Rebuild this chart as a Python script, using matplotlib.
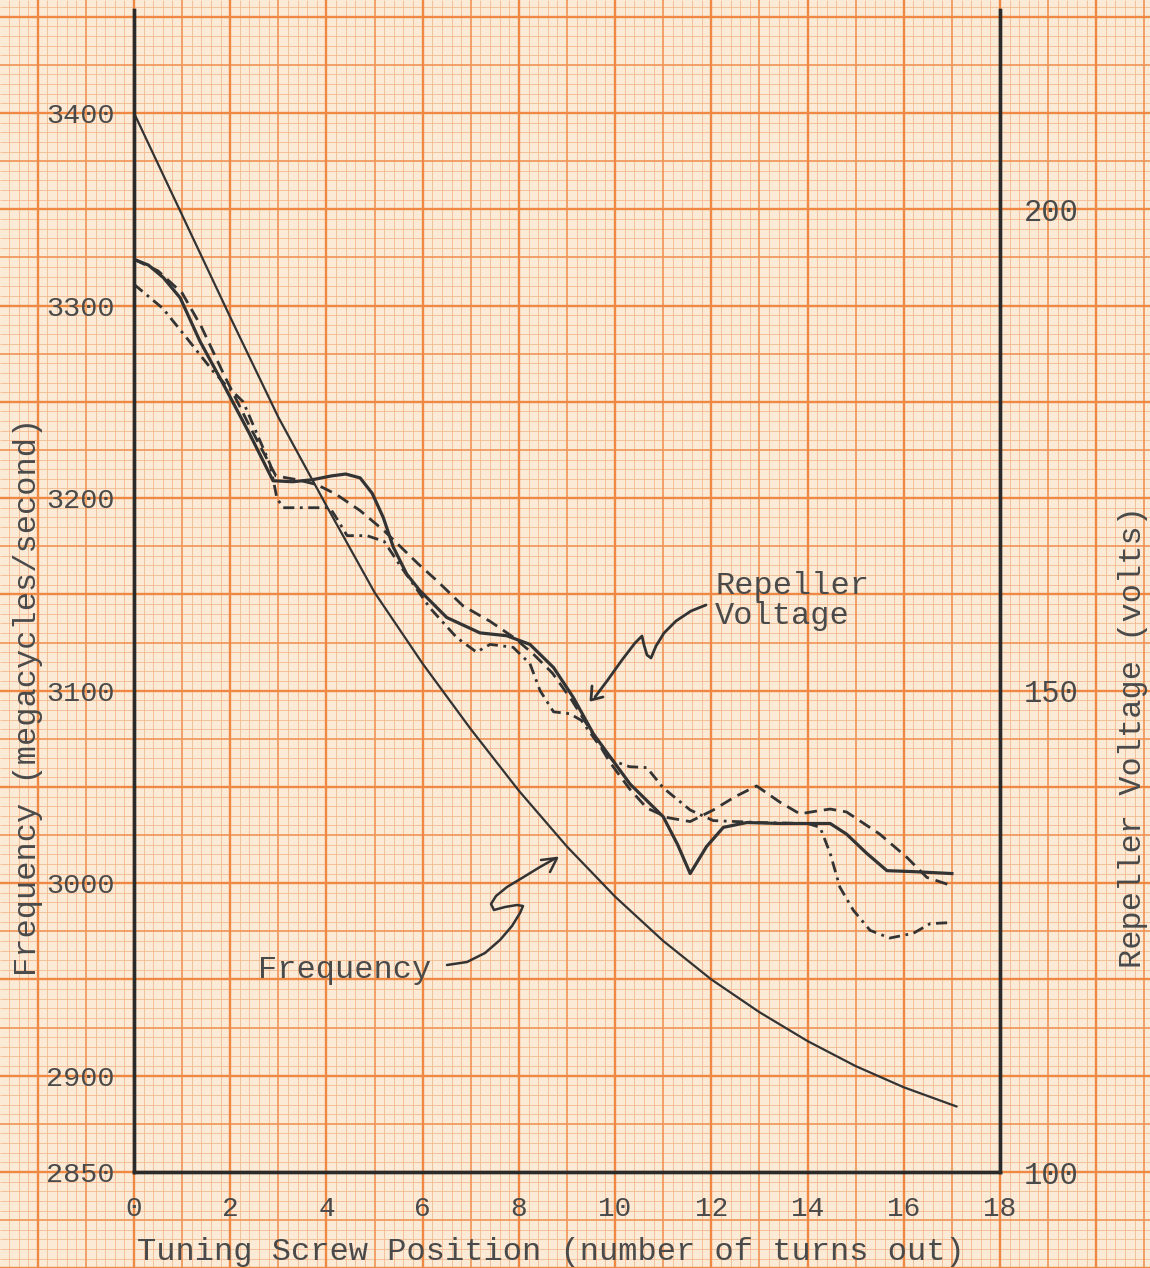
import matplotlib
matplotlib.use("Agg")
import matplotlib.pyplot as plt
from matplotlib.collections import LineCollection

# ---------------- data ----------------
x_ticks = [0, 2, 4, 6, 8, 10, 12, 14, 16, 18]
freq_ticks = [2850, 2900, 3000, 3100, 3200, 3300, 3400]
volt_ticks = [100, 150, 200]

# Frequency (Mc/s) vs tuning screw turns
freq_x = [0, 1, 2, 3, 4, 5, 6, 7, 8, 9, 10, 11, 12, 13, 14, 15, 16, 17.1]
freq_y = [3400, 3347, 3294, 3242, 3196, 3151, 3114, 3080, 3048, 3019, 2993,
          2970, 2950, 2933, 2918, 2905, 2894, 2884]

# Repeller voltage, solid curve
va_x = [0, 0.3, 0.61, 0.96, 1.37, 1.86, 2.4, 2.89, 3.3, 3.7, 4.1, 4.4, 4.7,
        4.95, 5.18, 5.39, 5.67, 5.94, 6.5, 7.19, 7.75, 8.23, 8.72, 9.13, 9.55,
        10.31, 11.0, 11.3, 11.56, 11.9, 12.25, 12.74, 13.43, 14.47, 14.81,
        15.23, 15.65, 16.2, 17.0]
va_y = [194.8, 194.2, 192.9, 190.8, 186.3, 181.8, 176.7, 171.8, 171.7, 171.9,
        172.3, 172.5, 172.1, 170.5, 168.0, 164.9, 162.1, 160.4, 157.6, 156.0,
        155.7, 154.8, 152.4, 149.3, 145.5, 140.3, 136.9, 134.0, 131.0, 133.8,
        135.8, 136.3, 136.2, 136.2, 135.1, 133.1, 131.3, 131.2, 131.0]

# Repeller voltage, dashed curve
vb_x = [0, 0.5, 1.0, 1.4, 1.9, 2.4, 2.95, 3.4, 3.8, 4.2, 4.7, 5.2, 5.9, 6.3,
        6.84, 7.4, 7.9, 8.3, 8.7, 9.1, 9.5, 9.9, 10.3, 10.66, 11.1, 11.56,
        12.04, 12.5, 12.94, 13.43, 13.84, 14.2, 14.47, 14.81, 15.5, 16.06,
        16.48, 16.96]
vb_y = [194.8, 193.6, 191.3, 187.8, 182.5, 177.5, 172.3, 171.9, 171.4, 170.4,
        168.7, 166.6, 163.2, 161.4, 158.8, 157.2, 155.5, 153.8, 151.8, 149.0,
        145.8, 142.5, 139.8, 137.8, 136.8, 136.4, 137.6, 139.0, 140.1, 138.4,
        137.2, 137.5, 137.7, 137.4, 135.1, 132.7, 130.6, 129.8]

# Repeller voltage, dash-dot curve
vc_x = [0, 0.6, 1.1, 1.64, 1.9, 2.27, 2.83, 2.97, 3.1, 4.07, 4.2, 4.43, 4.84,
        5.2, 5.53, 6.15, 6.71, 7.12, 7.4, 7.88, 8.23, 8.44, 8.72, 9.06, 9.3,
        9.6, 9.96, 10.3, 10.66, 11.0, 11.56, 12.04, 13.0, 14.0, 14.26, 14.47,
        14.67, 14.95, 15.3, 15.71, 16.2, 16.55, 16.96]
vc_y = [192.2, 189.7, 186.6, 183.2, 181.8, 180.0, 173.5, 170.0, 169.0, 169.0,
        168.0, 166.1, 166.1, 165.5, 163.0, 158.6, 155.5, 154.0, 154.8, 154.5,
        152.8, 150.0, 147.8, 147.6, 146.9, 144.8, 142.7, 142.1, 142.0, 139.9,
        137.6, 136.5, 136.3, 136.2, 135.8, 133.1, 129.6, 127.2, 125.1, 124.3,
        124.8, 125.8, 125.9]

# ---------------- layout ----------------
W, H, DPI = 1150, 1268, 100
fig = plt.figure(figsize=(W / DPI, H / DPI), dpi=DPI)
paper = '#faead6'
fig.patch.set_facecolor(paper)
FONT = ['Liberation Mono', 'DejaVu Sans Mono']
INK = '#333333'
TXT = '#4a4a4a'

X0, X1 = 134, 1000          # pixel of x=0 and x=18
Y0, YT = 1172, 10           # pixel of axis bottom and top
PXX = (X1 - X0) / 18.0
PXY = (1172 - 113) / 550.0
F_TOP = 2850 + (Y0 - YT) / PXY

# graph paper background in pixel coordinates
bg = fig.add_axes([0, 0, 1, 1])
bg.set_xlim(0, W)
bg.set_ylim(H, 0)
bg.axis('off')
minor, medium, major = [], [], []
for k in range(-15, 110):
    px = X0 + k * PXX / 5.0
    if px < -2 or px > W + 2:
        continue
    seg = [(px, 0), (px, H)]
    (major if k % 10 == 0 else medium if k % 5 == 0 else minor).append(seg)
for k in range(-15, 140):
    py = Y0 - k * PXY * 5.0
    if py < -2 or py > H + 2:
        continue
    seg = [(0, py), (W, py)]
    (major if k % 10 == 0 else medium if k % 5 == 0 else minor).append(seg)
bg.add_collection(LineCollection(minor, colors='#f5b990', linewidths=0.6))
bg.add_collection(LineCollection(medium, colors='#f0965a', linewidths=1.25))
bg.add_collection(LineCollection(major, colors='#ee8842', linewidths=1.7))

# main axes
ax = fig.add_axes([X0 / W, 1 - Y0 / H, (X1 - X0) / W, (Y0 - YT) / H])
ax.patch.set_alpha(0)
ax.set_xlim(0, 18)
ax.set_ylim(2850, F_TOP)
ax2 = ax.twinx()
ax2.set_ylim(100, 100 + (F_TOP - 2850) / 5.0)

for a in (ax, ax2):
    a.spines['top'].set_visible(False)
    for s in ('left', 'right', 'bottom'):
        a.spines[s].set_linewidth(2.4)
        a.spines[s].set_color('#2a2a2a')
    a.tick_params(length=0)

ax.set_xticks(x_ticks)
ax.set_xticklabels([str(v) for v in x_ticks], family=FONT, fontsize=20, color=TXT)
ax.set_yticks(freq_ticks)
ax.set_yticklabels([str(v) for v in freq_ticks], family=FONT, fontsize=20.5, color=TXT)
ax2.set_yticks(volt_ticks)
ax2.set_yticklabels([str(v) for v in volt_ticks], family=FONT, fontsize=22, color=TXT)
ax.tick_params(axis='x', pad=17)
ax.tick_params(axis='y', pad=14)
ax2.tick_params(axis='y', pad=17)

# curves
ax.plot(freq_x, freq_y, color=INK, lw=1.6, solid_capstyle='round',
        solid_joinstyle='round')
ax2.plot(va_x, va_y, color=INK, lw=2.3, solid_joinstyle='round')
ax2.plot(vb_x, vb_y, color=INK, lw=2.0, linestyle=(0, (4.5, 2.5)))
ax2.plot(vc_x, vc_y, color=INK, lw=2.0, linestyle=(0, (4.0, 2.0, 1.0, 2.0)))

# axis labels
fig.text(551 / W, 1 - 1252 / H, 'Tuning Screw Position (number of turns out)',
         family=FONT, fontsize=23, color=TXT, ha='center', va='center')
fig.text(28 / W, 1 - 697 / H, 'Frequency (megacycles/second)', rotation=90,
         family=FONT, fontsize=23, color=TXT, ha='center', va='center')
fig.text(1133 / W, 1 - 737 / H, 'Repeller Voltage (volts)', rotation=90,
         family=FONT, fontsize=23, color=TXT, ha='center', va='center')

# annotations (pixel coordinates on the paper layer)
bg.text(715, 594, 'Repeller', family=FONT, fontsize=23, color=TXT,
        ha='left', va='baseline')
bg.text(715, 624, 'Voltage', family=FONT, fontsize=23, color=TXT,
        ha='left', va='baseline')
bg.text(258, 978, 'Frequency', family=FONT, fontsize=23, color=TXT,
        ha='left', va='baseline')

rep_path = [(706, 605), (691, 611), (676, 621), (664, 633), (656, 646),
            (651, 658), (647, 655), (644, 645), (642, 636), (635, 643),
            (622, 660), (607, 681), (595, 697)]
bg.plot([p[0] for p in rep_path], [p[1] for p in rep_path], color=INK, lw=2.0,
        solid_joinstyle='round', solid_capstyle='round')
bg.plot([603, 591, 592], [697, 700, 686], color=INK, lw=2.0,
        solid_joinstyle='round', solid_capstyle='round')

frq_path = [(447, 965), (467, 962), (485, 953), (500, 940), (512, 926),
            (520, 913), (523, 906), (517, 905), (505, 907), (494, 910),
            (491, 904), (496, 896), (507, 887), (522, 878), (540, 867),
            (556, 858)]
bg.plot([p[0] for p in frq_path], [p[1] for p in frq_path], color=INK, lw=1.8,
        solid_joinstyle='round', solid_capstyle='round')
bg.plot([541, 557, 550], [860, 858, 872], color=INK, lw=1.8,
        solid_joinstyle='round', solid_capstyle='round')

fig.savefig('out.png', dpi=DPI, facecolor=paper)
